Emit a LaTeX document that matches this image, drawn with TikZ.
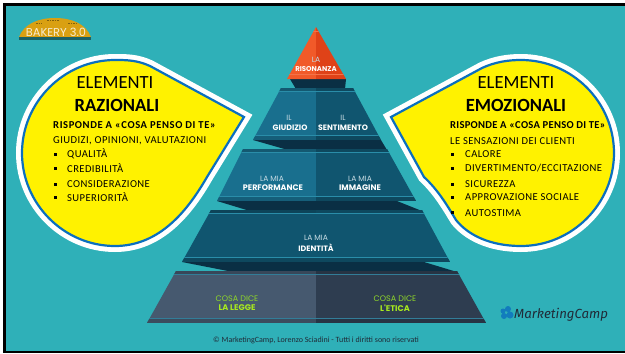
\documentclass[tikz,border=0pt]{standalone}
\usepackage{fontspec}
\setmainfont{Carlito}
\newfontfamily\pyr{Poppins}
\newfontfamily\carl[LetterSpace=4]{Carlito}
\newfontfamily\carlb[LetterSpace=5.5]{Carlito}
\newfontfamily\carlc[LetterSpace=2.5]{Carlito}
\newfontfamily\logo{Fira Sans}
\definecolor{bgteal}{HTML}{2FB0B8}
\definecolor{tipL}{HTML}{F15A29}
\definecolor{tipR}{HTML}{DF4218}
\definecolor{midL}{HTML}{196F8E}
\definecolor{midR}{HTML}{10556F}
\definecolor{lowL}{HTML}{46596F}
\definecolor{lowR}{HTML}{2E3D50}
\definecolor{shadowc}{HTML}{0A2F44}
\definecolor{bandL}{HTML}{2A8DA9}
\definecolor{gold}{HTML}{D9A012}
\definecolor{limeT}{HTML}{8FD62A}
\definecolor{limeS}{HTML}{A8EA1E}
\definecolor{boxblue}{HTML}{0B6FBE}
\newcommand{\tier}[9]{%
 % ytop xlt xrt ybot xlb xrb colL colR bandcolor
 \begin{scope}
 \clip (#2,#1) -- (#3,#1) -- (#6,#4) -- (#5,#4) -- cycle;
 \fill[#7] (100,#1) rectangle (316,#4);
 \fill[#8] (316,#1) rectangle (520,#4);
 \fill[#7!80!black] (100,#1) rectangle (316,\numexpr#1+4\relax);
 \fill[#8!85!black] (316,#1) rectangle (520,\numexpr#1+4\relax);
 \fill[#9] (100,\numexpr#1+3\relax) rectangle (520,\numexpr#1+4\relax);
 \fill[#9] (100,\numexpr#4-5\relax) rectangle (520,\numexpr#4-4\relax);
 \fill[#7!85!black] (100,\numexpr#4-4\relax) rectangle (316,#4);
 \fill[#8!85!black] (316,\numexpr#4-4\relax) rectangle (520,#4);
 \end{scope}}
\tikzset{
 x=1pt,y=-1pt,
 title/.style={font=\fontsize{18.6}{20}\selectfont,text=black,inner sep=0pt},
 titleb/.style={font=\fontsize{18.6}{20}\selectfont\bfseries,text=black,inner sep=0pt},
 lead/.style={font=\carlb\fontsize{10.6}{12}\selectfont\bfseries,text=black,inner sep=0pt,anchor=west},
 leadr/.style={font=\carlc\fontsize{10.6}{12}\selectfont\bfseries,text=black,inner sep=0pt,anchor=west},
 item/.style={font=\carl\fontsize{10.6}{12}\selectfont,text=black,inner sep=0pt,anchor=west},
 bul/.style={fill=black,minimum size=3pt,inner sep=0pt},
 pyrT/.style={font=\pyr\fontsize{7.6}{8}\selectfont,text=white!75!midL,inner sep=0pt},
 pyrB/.style={font=\pyr\fontsize{7.8}{8}\selectfont\bfseries,text=white,inner sep=0pt},
 limeA/.style={font=\pyr\fontsize{8}{8}\selectfont,text=limeT,inner sep=0pt},
 limeB/.style={font=\pyr\fontsize{8.2}{8}\selectfont\bfseries,text=limeS,inner sep=0pt},
 blobwhite/.style={draw=white,line width=12pt,miter limit=10,line join=miter},
 blobblue/.style={draw=boxblue,fill=yellow,line width=2.2pt,miter limit=10,line join=miter},
}
\begin{document}
\begin{tikzpicture}
\useasboundingbox (0,0) rectangle (625,354);
\fill[white] (0,0) rectangle (625,354);
\fill[black] (3,3) rectangle (625,353);
\fill[bgteal] (6,6) rectangle (625,351);
% logo
\fill[gold] (19,37) .. controls (24,24) and (38,18) .. (55,18) .. controls (72,18) and (86,24) .. (91,37) -- cycle;
\fill[black!45!bgteal] (19,37) rectangle (91,39.5);
\foreach \a/\b/\c in {36/42/23,47/59/20,68/77/23}{\draw[black!40!gold,line width=1pt,dash pattern=on 1.5pt off 1pt] (\a,\c) -- (\b,\c);}
\node[inner sep=0pt,text=white!80!gold,font=\pyr\fontsize{11.4}{12}\selectfont] (bakery) at (56,32) {BAKERY 3.0};
% pyramid shadows
\fill[shadowc] (290,79) -- (346,79) -- (345,89) -- (296,89) -- cycle;
\fill[shadowc] (253,140) -- (381,140) -- (387,150) -- (288,150) -- cycle;
\fill[shadowc] (217,201) -- (397,201) -- (422,211) -- (250,211) -- cycle;
\fill[shadowc] (182,262) -- (424,262) -- (457,272) -- (233,272) -- cycle;
% tiers
\begin{scope}
\clip (316,27) -- (346,79) -- (287,79) -- cycle;
\fill[tipL] (280,20) rectangle (316,80);
\fill[tipR] (316,20) rectangle (350,80);
\fill[tipL!85!white] (280,31) rectangle (350,31.7);
\fill[tipL!85!white] (280,74) rectangle (350,74.7);
\end{scope}
\tier{88}{281}{353}{140}{253}{381}{midL}{midR}{bandL}
\tier{149}{243}{387}{201}{217}{416}{midL}{midR}{bandL}
\tier{210}{211}{422}{262}{182}{450}{midR}{midR}{bandL}
\tier{271}{176}{457}{323}{147}{486}{lowL}{lowR}{bandL!70!lowL}
% pyramid labels
\node[pyrT] (t1a) at (316,60) {LA};
\node[pyrB,font=\pyr\fontsize{7}{8}\selectfont\bfseries] (t1b) at (316,69) {RISONANZA};
\node[pyrT] (t2a) at (289,118) {IL};
\node[pyrB] (t2b) at (290,128) {GIUDIZIO};
\node[pyrT] (t2c) at (343,118) {IL};
\node[pyrB] (t2d) at (343,128) {SENTIMENTO};
\node[pyrT] (t3a) at (272,179) {LA MIA};
\node[pyrB,font=\pyr\fontsize{8}{8}\selectfont\bfseries] (t3b) at (273,188) {PERFORMANCE};
\node[pyrT] (t3c) at (360,179) {LA MIA};
\node[pyrB,font=\pyr\fontsize{8}{8}\selectfont\bfseries] (t3d) at (360,188) {IMMAGINE};
\node[pyrT] (t4a) at (316,238) {LA MIA};
\node[pyrB] (t4b) at (316,248) {IDENTITÀ};
\node[limeA] (t5a) at (237,299) {COSA DICE};
\node[limeB] (t5b) at (237,308) {LA LEGGE};
\node[limeA] (t5c) at (395,299) {COSA DICE};
\node[limeB] (t5d) at (395,308) {L'ETICA};
% left blob
\def\leftblob{(244,117) -- (150,66) .. controls (137,60) and (126,60) .. (115,60) .. controls (64,60) and (22,102) .. (22,153) .. controls (22,204) and (64,246) .. (115,246) .. controls (160,246) and (188,210) .. (207,177) -- cycle}
\draw[blobwhite] \leftblob;
\draw[blobblue] \leftblob;
% right blob
\def\rightblob{(391,117) -- (482,68) .. controls (495,62) and (508,60) .. (521,60) .. controls (572,60) and (614,102) .. (614,153) .. controls (614,204) and (572,246) .. (521,246) .. controls (490,246) and (468,235) .. (456,220) .. controls (447,205) and (438,190) .. (424,177) -- cycle}
\draw[blobwhite] \rightblob;
\draw[blobblue] \rightblob;
% left text
\node[title] (lt1) at (115,83) {ELEMENTI};
\node[titleb] (lt2) at (117,105) {RAZIONALI};
\node[lead] (lt3) at (53,125) {RISPONDE A «COSA PENSO DI TE»};
\node[item] (lt4) at (53,141) {GIUDIZI, OPINIONI, VALUTAZIONI};
\node[item] (lt5) at (67,154) {QUALITÀ};
\node[item] (lt6) at (67,168) {CREDIBILITÀ};
\node[item] (lt7) at (67,184) {CONSIDERAZIONE};
\node[item] (lt8) at (67,197) {SUPERIORITÀ};
\foreach \y [count=\i] in {154,168,184,197}{\node[bul] (lb\i) at (55,\y) {};}
% right text
\node[title] (rt1) at (516,83) {ELEMENTI};
\node[titleb] (rt2) at (516,105) {EMOZIONALI};
\node[leadr] (rt3) at (450,125) {RISPONDE A «COSA PENSO DI TE»};
\node[item] (rt4) at (450,141) {LE SENSAZIONI DEI CLIENTI};
\node[item] (rt5) at (465,154) {CALORE};
\node[item] (rt6) at (465,168) {DIVERTIMENTO/ECCITAZIONE};
\node[item] (rt7) at (465,184) {SICUREZZA};
\node[item] (rt8) at (465,197) {APPROVAZIONE SOCIALE};
\node[item] (rt9) at (465,213) {AUTOSTIMA};
\foreach \y [count=\i] in {154,168,184,197,212}{\node[bul] (rb\i) at (452,\y) {};}
% brand
\fill[boxblue!80!bgteal] (503,311) circle (2.5) (508,309) circle (3) (504,316) circle (3) (510,315) circle (3.5);
\node[inner sep=0pt,anchor=west,text=lowR!70!black,font=\logo\itshape\fontsize{13.2}{16}\selectfont] (brand) at (514,315) {MarketingCamp};
\node[inner sep=0pt,text=lowR!70!black,font=\fontsize{8}{10}\selectfont] (copy) at (316,340) {© MarketingCamp, Lorenzo Sciadini - Tutti i diritti sono riservati};
\end{tikzpicture}
\end{document}
